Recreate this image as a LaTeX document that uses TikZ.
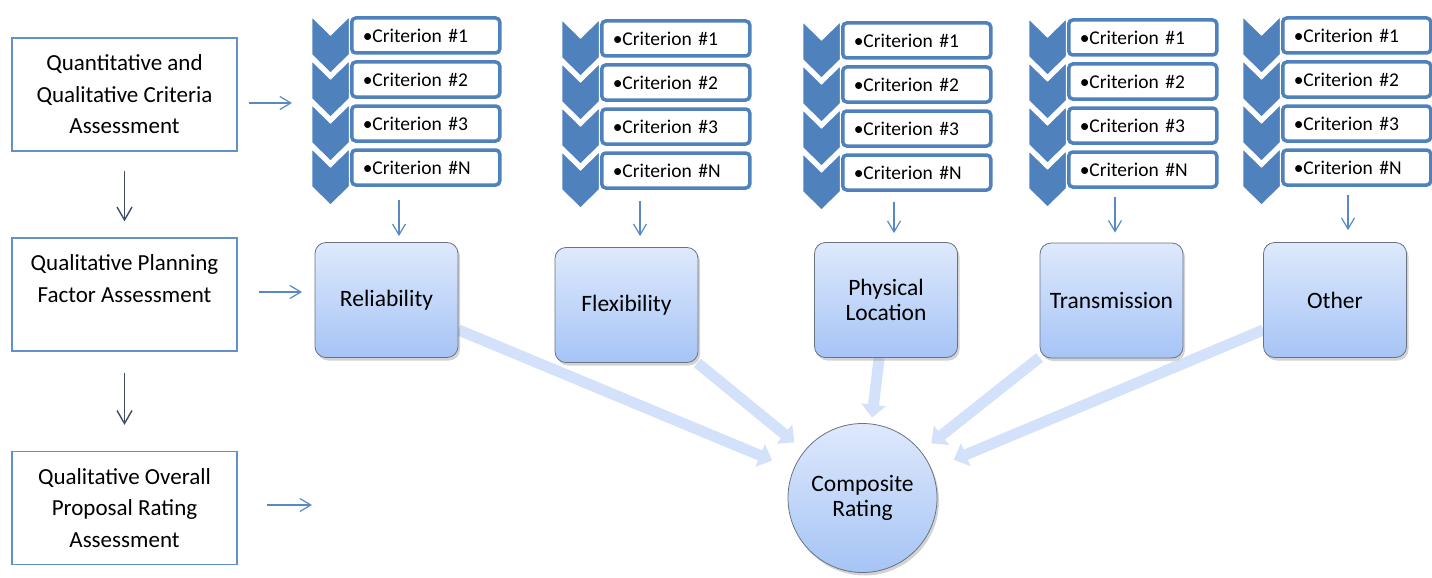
\documentclass[tikz,border=0pt]{standalone}
\usepackage{fontspec}
\setmainfont{Carlito}
\usetikzlibrary{arrows.meta,shadows}

\definecolor{chevblue}{RGB}{79,129,189}
\definecolor{frameblue}{RGB}{98,143,205}
\definecolor{arrowblue}{RGB}{88,136,200}
\definecolor{darkslate}{RGB}{64,78,100}
\definecolor{factortop}{RGB}{222,233,252}
\definecolor{factorbot}{RGB}{166,196,246}
\definecolor{factorline}{RGB}{105,115,130}
\definecolor{bigflow}{RGB}{212,225,250}

\pgfdeclarelayer{background}
\pgfsetlayers{background,main}

\tikzset{
  leftbox/.style={draw=frameblue, line width=1.2pt, minimum width=225pt,
    minimum height=113pt, align=center, font=\fontsize{23}{31.5}\selectfont},
  chevron/.style={fill=chevblue, draw=white, line width=2.5pt, line join=miter},
  critbox/.style={draw=chevblue, line width=3.5pt, fill=white, rounded corners=4pt,
    minimum height=35pt, text width=126pt, inner xsep=11pt, align=left,
    font=\fontsize{19.5}{22}\selectfont},
  factor/.style={draw=factorline, line width=0.8pt, rounded corners=11pt,
    top color=factortop, bottom color=factorbot, minimum width=143pt,
    minimum height=115pt, align=center, font=\fontsize{23.5}{25}\selectfont,
    drop shadow={opacity=0.35, shadow xshift=2pt, shadow yshift=-3pt}},
  rating/.style={circle, draw=factorline, line width=0.8pt,
    top color=factortop, bottom color=factorbot, minimum size=149pt,
    align=center, font=\fontsize{23.5}{25}\selectfont,
    drop shadow={opacity=0.35, shadow xshift=2pt, shadow yshift=-3pt}},
  bigarrow/.style={draw=bigflow, line width=11pt,
    -{Triangle[width=24pt,length=13pt]}},
  thinarrow/.style={draw=arrowblue, line width=1.2pt,
    -{Straight Barb[length=11pt,width=13pt]}},
  darkarrow/.style={draw=darkslate, line width=1.4pt,
    -{Straight Barb[length=13pt,width=15pt]}}
}

\begin{document}
\begin{tikzpicture}[x=1pt,y=-1pt]
\useasboundingbox (0,0) rectangle (1432,578);

% assessment steps
\node[leftbox] (quant) at (124.5,94.5) {Quantitative and\\Qualitative Criteria\\Assessment};
\node[leftbox] (plan) at (124.5,294.5) {Qualitative Planning\\Factor Assessment\\~};
\node[leftbox] (overall) at (124.5,508) {Qualitative Overall\\Proposal Rating\\Assessment};

\draw[darkarrow, shorten <=19pt, shorten >=16pt] (quant) -- (plan);
\draw[darkarrow, shorten <=21pt, shorten >=26pt] (plan) -- (overall);

% criteria lists
\foreach \g/\gx/\gy in {1/311/15, 2/561/18, 3/802/20, 4/1028/17, 5/1242/15} {
  \foreach \r in {0,...,3} {
    \pgfmathsetmacro\ty{\gy+44*\r}
    \draw[chevron] (\gx,\ty) -- ++(19.5,19) -- ++(19.5,-19) -- ++(0,40)
      -- ++(-19.5,19) -- ++(-19.5,-19) -- cycle;
  }
  \foreach \r/\lab in {0/1, 1/2, 2/3, 3/N} {
    \pgfmathsetmacro\ty{\gy+44*\r}
    \node[critbox, anchor=west] (crit-\g-\lab) at ({\gx+39},{\ty+20.5})
      {•Criterion \#\lab};
  }
}

% planning factors
\node[factor] (rel) at (386.5,300) {Reliability};
\node[factor] (flex) at (626.5,305) {Flexibility};
\node[factor] (phys) at (886,300) {Physical\\Location};
\node[factor] (trans) at (1111.5,300.5) {Transmission};
\node[factor] (other) at (1335,300) {Other};

\node[rating] (comp) at (862.5,498) {Composite\\Rating};

\begin{pgfonlayer}{background}
\draw[bigarrow, shorten >=23pt] (rel) -- (comp);
\draw[bigarrow, shorten >=13pt] (flex) -- (comp);
\draw[bigarrow, shorten >=6pt] (phys) -- (comp);
\draw[bigarrow, shorten >=13pt] (trans) -- (comp);
\draw[bigarrow, shorten >=24pt] (other) -- (comp);
\end{pgfonlayer}

% small arrows
\coordinate (a1) at (292,103);
\coordinate (a2) at (302,292);
\coordinate (a3) at (312,505);
\draw[thinarrow, shorten <=11pt] (quant.east |- a1) -- (a1);
\draw[thinarrow, shorten <=21pt] (plan.east |- a2) -- (a2);
\draw[thinarrow, shorten <=29pt] (overall.east |- a3) -- (a3);

\coordinate (d1) at (399,200);
\coordinate (d2) at (640,201);
\coordinate (d3) at (894,202);
\coordinate (d4) at (1115,197);
\coordinate (d5) at (1348,195);
\draw[thinarrow, shorten >=6pt] (d1) -- (d1 |- rel.north);
\draw[thinarrow, shorten >=11pt] (d2) -- (d2 |- flex.north);
\draw[thinarrow, shorten >=9pt] (d3) -- (d3 |- phys.north);
\draw[thinarrow, shorten >=10pt] (d4) -- (d4 |- trans.north);
\draw[thinarrow, shorten >=12pt] (d5) -- (d5 |- other.north);
\end{tikzpicture}
\end{document}
